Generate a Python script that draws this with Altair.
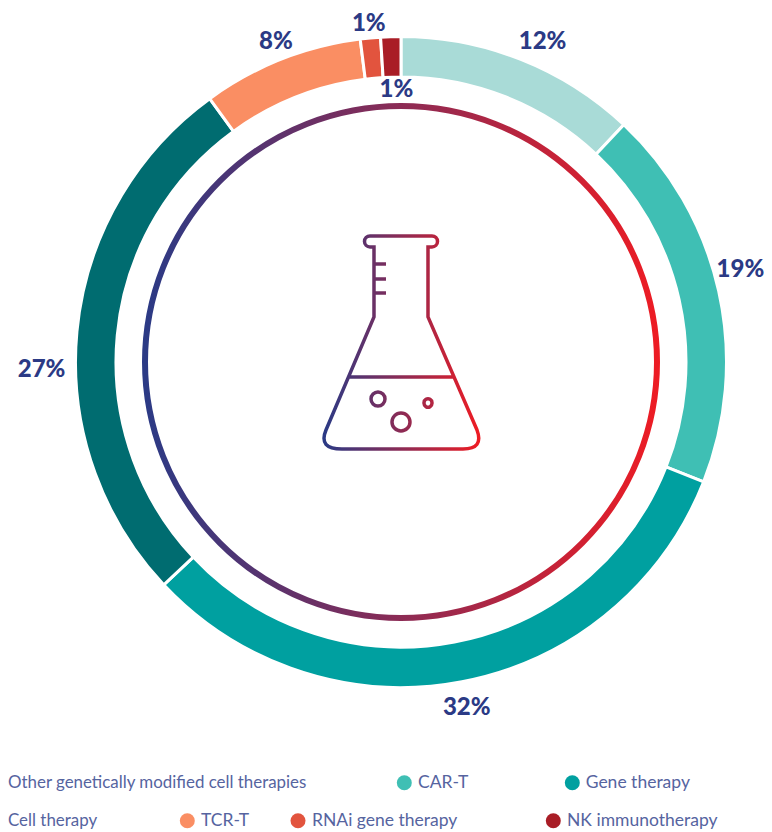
import math
import altair as alt
import pandas as pd

categories = ["Other genetically modified cell therapies", "CAR-T", "Gene therapy", "Cell therapy", "TCR-T", "RNAi gene therapy", "NK immunotherapy"]
shares = [12, 19, 32, 27, 8, 1, 1]
colors = ["#A9DBD7", "#3FBFB4", "#00A0A0", "#006C70", "#FA8E63", "#E2543E", "#A91D26"]

W, H = 756, 824
CX, CY = 393, 354
NAVY = "#2B3A85"
GRAD = {"gradient": "linear", "x1": 0, "x2": 1, "y1": 0, "y2": 0,
        "stops": [{"offset": 0, "color": "#2B3A85"}, {"offset": 1, "color": "#ED1C24"}]}

df = pd.DataFrame({"cat": categories, "value": shares, "order": range(len(shares)), "color": colors})

ring = alt.Chart(df).mark_arc(radius=325.5, radius2=285, stroke="white", strokeWidth=3).encode(
    x=alt.value(CX), y=alt.value(CY),
    theta=alt.Theta("value:Q", stack=True, scale=alt.Scale(domain=[0, 100], range=[0, 2 * math.pi])),
    order=alt.Order("order:Q"),
    color=alt.Color("color:N", scale=None),
)

# percentage labels: placed around each slice's mid angle
label_radius = [352, 357, 351, 360, 345, 342, 274]
label_nudge = [(12, 7), (-9, -14), (0, 1), (-1, 42), (2, 1), (0, 2), (4, 2)]
cum = 0
rows = []
for v, r, (nx, ny) in zip(shares, label_radius, label_nudge):
    a = (cum + v / 2) / 100 * 2 * math.pi
    cum += v
    rows.append({"t": f"{v}%", "x": CX + r * math.sin(a) + nx, "y": CY - r * math.cos(a) + ny})
labels = alt.Chart(pd.DataFrame(rows)).mark_text(
    font="Lato", fontWeight=900, fontSize=24, color=NAVY, align="center", baseline="middle"
).encode(x=alt.X("x:Q", scale=None), y=alt.Y("y:Q", scale=None), text="t:N")

# inner thin circle
circle = alt.Chart(pd.DataFrame({"k": [0]})).mark_point(
    shape="circle", filled=False, stroke=GRAD, strokeWidth=6, opacity=1
).encode(x=alt.value(CX), y=alt.value(CY), size=alt.value(4 * 256 ** 2))

# flask icon as a single glyph, written in reference pixels and normalised to [-1, 1]
FX, FY, FR = 401.5, 342.5, 108.5
def n(x, y):
    return f"{(x - FX) / FR:.4f} {(y - FY) / FR:.4f}"
def s(v):
    return f"{v / FR:.4f}"
def arc(x, y, r):
    return (f"M{n(x - r, y)}A{s(r)} {s(r)} 0 1 1 {n(x + r, y)}"
            f"A{s(r)} {s(r)} 0 1 1 {n(x - r, y)}Z")
flask_path = (
    f"M{n(374, 247)}L{n(370, 247)}A{s(5)} {s(5)} 0 0 1 {n(370, 236)}L{n(432, 236)}"
    f"A{s(5)} {s(5)} 0 0 1 {n(432, 247)}L{n(428, 247)}L{n(428, 317)}L{n(477, 430)}"
    f"Q{n(484, 449)} {n(463, 449)}L{n(342, 449)}Q{n(318, 449)} {n(326, 430)}L{n(374, 317)}Z"
    f"M{n(349, 377)}L{n(454, 377)}"
    f"M{n(374, 264)}L{n(386, 264)}M{n(374, 279)}L{n(386, 279)}M{n(374, 293)}L{n(386, 293)}"
    + arc(378, 399, 7) + arc(428, 403, 4) + arc(401, 422, 9)
)
flask = alt.Chart(pd.DataFrame({"k": [0]})).mark_point(
    shape=flask_path, filled=False, stroke=GRAD, strokeWidth=3.5, opacity=1
).encode(x=alt.value(FX - 8), y=alt.value(FY - 8), size=alt.value(4 * FR ** 2))

# legend
legend_row = [0, 0, 0, 1, 1, 1, 1]
marker_x = [None, 396.3, 564.3, None, 179.3, 290, 545.3]
text_x = [0, 410, 577.7, 0, 193, 304, 559]
font_sizes = [16.9, 17.5, 17.5, 16.9, 17.5, 17.5, 17.5]
row_y = [774.7, 812.7]
lg = pd.DataFrame({"cat": categories, "color": colors, "mx": marker_x, "tx": text_x, "fs": font_sizes,
                   "y": [row_y[r] for r in legend_row]})
legend_dots = alt.Chart(lg.dropna(subset=["mx"])).mark_circle(size=225, opacity=1).encode(
    x=alt.X("mx:Q", scale=None), y=alt.Y("y:Q", scale=None), color=alt.Color("color:N", scale=None)
)
legend_text = alt.Chart(lg).mark_text(
    font="Lato", color="#56649F", align="left", baseline="middle"
).encode(x=alt.X("tx:Q", scale=None), y=alt.Y("y:Q", scale=None), text="cat:N",
         size=alt.Size("fs:Q", scale=None))

chart = alt.layer(ring, circle, flask, labels, legend_dots, legend_text).resolve_scale(
    color="independent"
).properties(width=W, height=H, padding=0, background="white", autosize=alt.AutoSizeParams(type="none")
).configure_view(stroke=None)

chart.save("out.html", embed_options={"renderer": "svg", "actions": False})
